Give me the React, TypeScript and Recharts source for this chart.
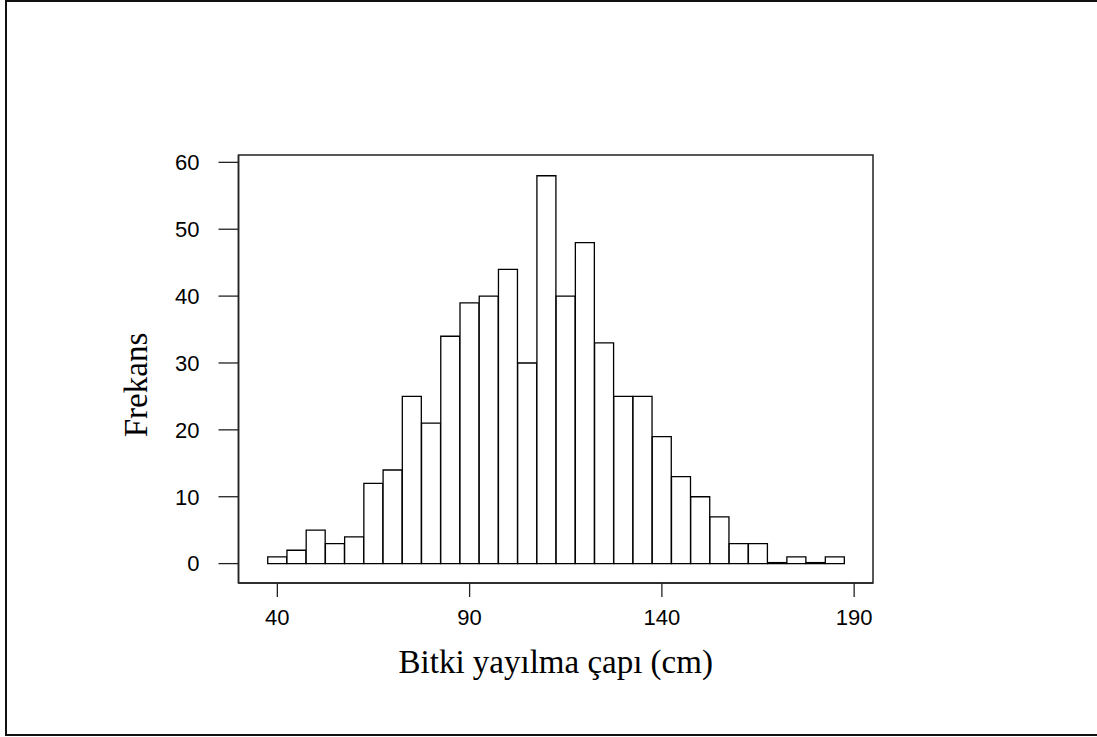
import { BarChart, Bar, XAxis, YAxis, Label, ReferenceArea } from "recharts";

// bin centres (5 cm wide bins, 37.5 - 187.5)
const binCenters = [
  40, 45, 50, 55, 60, 65, 70, 75, 80, 85, 90, 95, 100, 105, 110, 115, 120,
  125, 130, 135, 140, 145, 150, 155, 160, 165, 170, 175, 180, 185,
];
const counts = [
  1, 2, 5, 3, 4, 12, 14, 25, 21, 34, 39, 40, 44, 30, 58, 40, 48, 33, 25, 25,
  19, 13, 10, 7, 3, 3, 0, 1, 0, 1,
];
const xTicks = [40, 90, 140, 190];
const yTicks = [0, 10, 20, 30, 40, 50, 60];
const xDomain = [29.9, 194.9];
const yDomain = [-2.9, 61.1];
const xLabel = "Bitki yayılma çapı (cm)";
const yLabel = "Frekans";

const data = binCenters.map((c, i) => ({ x: c, n: counts[i] }));

const tickFont = {
  fontFamily: "'Liberation Sans', Arial, sans-serif",
  fontSize: 22,
  fill: "#000",
};
const titleFont = "'Liberation Serif', 'Times New Roman', serif";

// outline path so that empty bins still show a line on the baseline
const BinShape = (props: any) => {
  const { x, y, width, height } = props;
  const top = Math.min(y, y + height);
  const bottom = Math.max(y, y + height);
  return (
    <path
      d={`M${x},${bottom}L${x},${top}L${x + width},${top}L${x + width},${bottom}Z`}
      fill="#fff"
      stroke="#000"
      strokeWidth={1.3}
    />
  );
};

export default function App() {
  return (
    <div
      style={{
        position: "absolute",
        left: 0,
        top: 0,
        width: 1097,
        height: 737,
        background: "#fff",
      }}
    >
      <div
        style={{
          position: "absolute",
          left: 5,
          top: 0,
          width: 1092,
          height: 736,
          boxSizing: "border-box",
          borderTop: "2px solid #111",
          borderLeft: "2px solid #111",
          borderBottom: "2px solid #111",
        }}
      />
      <div style={{ position: "absolute", left: 0, top: 0 }}>
        <BarChart
          width={1097}
          height={737}
          data={data}
          margin={{ top: 155, right: 224, bottom: 0, left: 0 }}
          barCategoryGap={0}
          barGap={0}
        >
          <XAxis
            dataKey="x"
            type="number"
            domain={xDomain}
            allowDataOverflow
            ticks={xTicks}
            interval={0}
            height={154}
            tickSize={14}
            tickMargin={12}
            tick={tickFont}
            tickLine={{ stroke: "#222", strokeWidth: 1.3 }}
            axisLine={{ stroke: "#222", strokeWidth: 1.5 }}
          >
            <Label
              value={xLabel}
              position="insideTop"
              offset={67}
              style={{ fontFamily: titleFont, fontSize: 33, fill: "#000" }}
            />
          </XAxis>
          <YAxis
            type="number"
            domain={yDomain}
            allowDataOverflow
            ticks={yTicks}
            interval={0}
            width={238.5}
            tickSize={20}
            tickMargin={19}
            tick={tickFont}
            tickLine={{ stroke: "#222", strokeWidth: 1.3 }}
            axisLine={{ stroke: "#222", strokeWidth: 1.5 }}
          >
            <Label
              content={({ viewBox }: any) => {
                const cx = viewBox.x + 147;
                const cy = viewBox.y + viewBox.height / 2 + 16;
                return (
                  <text
                    x={cx}
                    y={cy}
                    transform={`rotate(-90, ${cx}, ${cy})`}
                    textAnchor="middle"
                    style={{ fontFamily: titleFont, fontSize: 33, fill: "#000" }}
                  >
                    {yLabel}
                  </text>
                );
              }}
            />
          </YAxis>
          {/* plot frame */}
          <ReferenceArea
            x1={xDomain[0]}
            x2={xDomain[1]}
            y1={yDomain[0]}
            y2={yDomain[1]}
            fill="none"
            fillOpacity={0}
            stroke="#222"
            strokeWidth={1.5}
            ifOverflow="visible"
          />
          <Bar
            dataKey="n"
            isAnimationActive={false}
            minPointSize={1}
            shape={<BinShape />}
          />
        </BarChart>
      </div>
    </div>
  );
}
